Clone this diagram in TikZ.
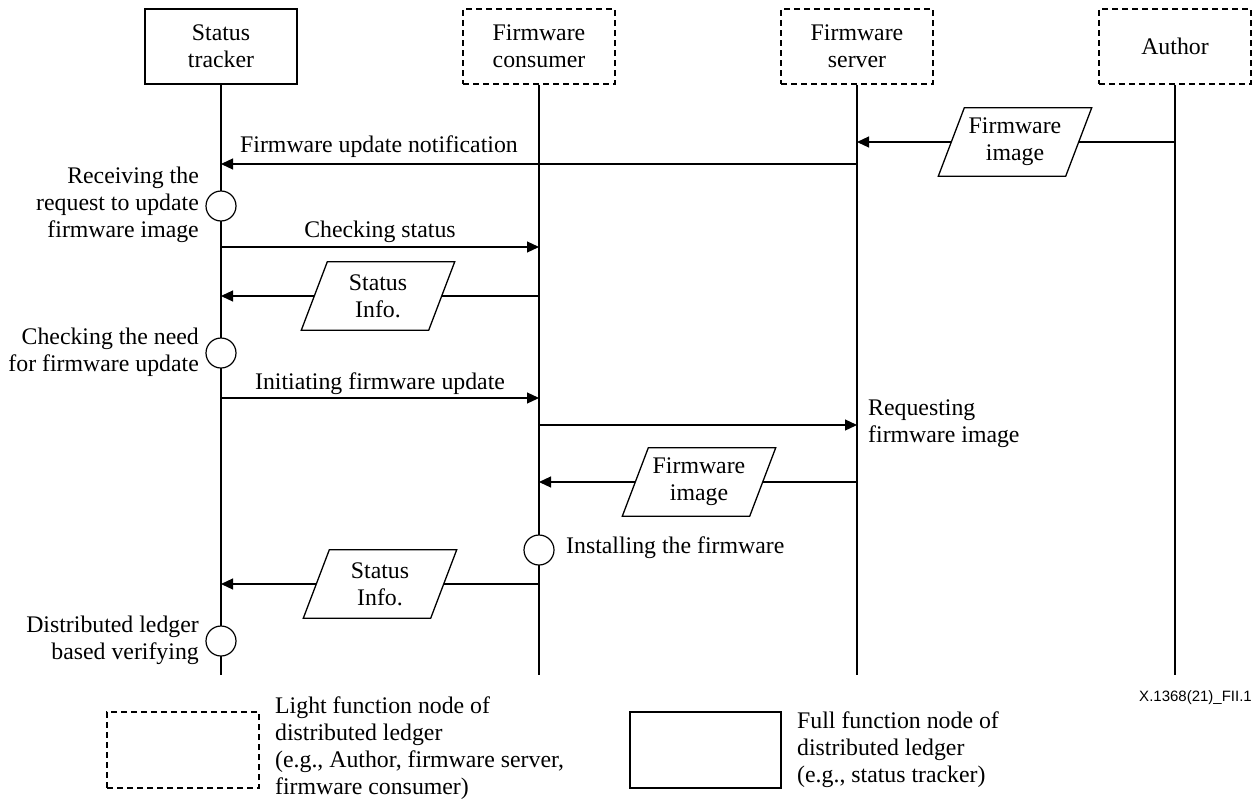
\documentclass[tikz,border=0pt]{standalone}
\usepackage{fontspec}
\setmainfont{Liberation Serif}
\newfontfamily\labsans{Liberation Sans}
\usetikzlibrary{arrows.meta,calc}
\newcommand\drawpara[1]{\draw[pbox] ($(#1.south west)+(-13,0)$) -- ($(#1.north west)+(13,0)$) -- ($(#1.north east)+(13,0)$) -- ($(#1.south east)+(-13,0)$) -- cycle;}
\begin{document}
\begin{tikzpicture}[x=1pt,y=-1pt,font=\fontsize{23.8}{27}\selectfont,
  fullbox/.style={draw,line width=1.3pt,minimum width=152pt,minimum height=75pt,align=center,inner sep=0pt},
  lightbox/.style={fullbox,dash pattern=on 6pt off 4pt},
  life/.style={line width=1.2pt},
  conn/.style={line width=1.2pt},
  msg/.style={line width=1.2pt,-{Triangle[length=12pt,width=11pt]}},
  actc/.style={circle,draw,line width=1.2pt,fill=white,minimum size=30pt,inner sep=0pt},
  para/.style={minimum width=127pt,minimum height=68pt,inner sep=0pt,align=center},
  pbox/.style={line width=1.3pt},
  lab/.style={inner sep=0pt,align=center},
]
\useasboundingbox (0,0) rectangle (1258,803);
% actors
\node[fullbox] (st) at (221,46.5) {Status\\tracker};
\node[lightbox] (fc) at (539,46.5) {Firmware\\consumer};
\node[lightbox] (fs) at (857,46.5) {Firmware\\server};
\node[lightbox] (au) at (1175,46.5) {Author};
% lifelines
\coordinate (stE) at (221,675);
\coordinate (fcE) at (539,675);
\coordinate (fsE) at (857,675);
\coordinate (auE) at (1175,675);
\draw[life] (st.south) -- (stE);
\draw[life] (fc.south) -- (fcE);
\draw[life] (fs.south) -- (fsE);
\draw[life] (au.south) -- (auE);
% message 1: author -> server (firmware image)
\coordinate (au1) at (1175,142);
\coordinate (fs1) at (857,142);
\node[para] (fi1) at (1015,142) {Firmware\\image};
\drawpara{fi1}
\draw[conn] (au1) -- (fi1.east);
\draw[msg] (fi1.west) -- (fs1);
% message 2: server -> status tracker
\coordinate (fs2) at (857,164);
\coordinate (st2) at (221,164);
\draw[msg] (fs2) -- (st2);
\node[lab,anchor=base] (l2) at (379,152) {Firmware update notification};
% activity 1
\node[actc] (c1) at (221,206) {};
\node[lab,anchor=east,align=right] (lc1) at (199,205) {Receiving the\\request to update\\firmware image};
% message 3
\coordinate (st3) at (221,247);
\coordinate (fc3) at (539,247);
\draw[msg] (st3) -- (fc3);
\node[lab,anchor=base] (l3) at (380,237) {Checking status};
% message 4: status info
\coordinate (fc4) at (539,296);
\coordinate (st4) at (221,296);
\node[para] (si1) at (378,296) {Status\\Info.};
\drawpara{si1}
\draw[conn] (fc4) -- (si1.east);
\draw[msg] (si1.west) -- (st4);
% activity 2
\node[actc] (c2) at (221,353) {};
\node[lab,anchor=east,align=right] (lc2) at (199,352) {Checking the need\\for firmware update};
% message 5
\coordinate (st5) at (221,398);
\coordinate (fc5) at (539,398);
\draw[msg] (st5) -- (fc5);
\node[lab,anchor=base] (l5) at (380,389) {Initiating firmware update};
% message 6
\coordinate (fc6) at (539,425);
\coordinate (fs6) at (857,425);
\draw[msg] (fc6) -- (fs6);
\node[lab,anchor=west,align=left] (l6) at (868,424) {Requesting\\firmware image};
% message 7: firmware image
\coordinate (fs7) at (857,482);
\coordinate (fc7) at (539,482);
\node[para] (fi2) at (699,482) {Firmware\\image};
\drawpara{fi2}
\draw[conn] (fs7) -- (fi2.east);
\draw[msg] (fi2.west) -- (fc7);
% activity 3
\node[actc] (c3) at (539,550) {};
\node[lab,anchor=west] (lc3) at (566,548) {Installing the firmware};
% message 8: status info
\coordinate (fc8) at (539,584);
\coordinate (st8) at (221,584);
\node[para] (si2) at (380,584) {Status\\Info.};
\drawpara{si2}
\draw[conn] (fc8) -- (si2.east);
\draw[msg] (si2.west) -- (st8);
% activity 4
\node[actc] (c4) at (221,641) {};
\node[lab,anchor=east,align=right] (lc4) at (199,640) {Distributed ledger\\based verifying};
% figure id
\node[lab,anchor=east,font=\labsans\fontsize{15}{18}\selectfont] (fid) at (1252,698) {X.1368(21)\_FII.1};
% legend
\node[lightbox,minimum width=152pt,minimum height=76pt] (lg1) at (183,750) {};
\node[lab,anchor=west,align=left] (lt1) at (275,748.5) {Light function node of\\distributed ledger\\(e.g., Author, firmware server,\\firmware consumer)};
\node[fullbox,minimum width=151pt,minimum height=76pt] (lg2) at (705.5,750) {};
\node[lab,anchor=west,align=left] (lt2) at (797,749.5) {Full function node of\\distributed ledger\\(e.g., status tracker)};
\end{tikzpicture}
\end{document}
